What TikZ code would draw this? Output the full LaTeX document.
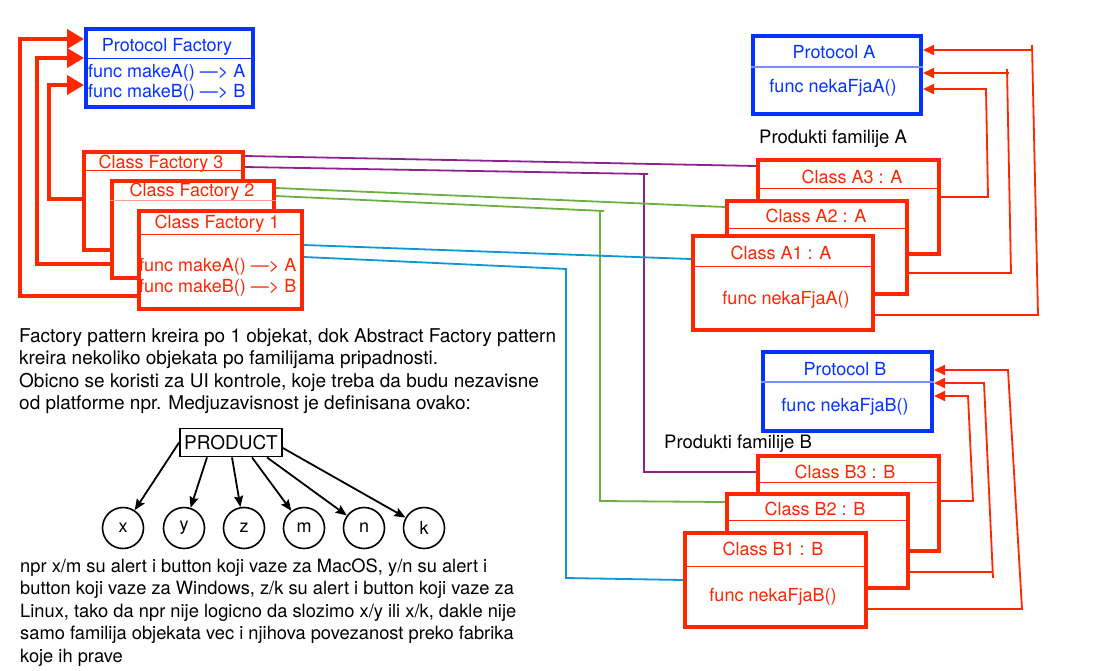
\documentclass[tikz,border=0pt]{standalone}
\usepackage{fontspec}
\setmainfont{TeX Gyre Heros}
\usetikzlibrary{arrows.meta}
\definecolor{pblue}{HTML}{0433FF}
\definecolor{pred}{HTML}{FF2600}
\definecolor{ppurple}{HTML}{8E2390}
\definecolor{pgreen}{HTML}{6CB043}
\definecolor{pcyan}{HTML}{0C98D4}
\pgfdeclarelayer{bg}
\pgfsetlayers{bg,main}
\tikzset{
  rbox/.style={draw=pred, line width=4pt, fill=white, inner sep=0pt, anchor=north west},
  bbox/.style={draw=pblue, line width=4pt, fill=white, inner sep=0pt, anchor=north west},
  rhl/.style={draw=pred, line width=1pt},
  bhl/.style={draw=pblue!55, line width=1.2pt},
  rtxt/.style={text=pred, inner sep=0pt, anchor=base},
  btxt/.style={text=pblue, inner sep=0pt, anchor=base},
  ktxt/.style={text=black, inner sep=0pt, anchor=base west},
  farr/.style={draw=pred, line width=4pt, -{Triangle[length=17pt,width=19pt]}},
  tarr/.style={draw=pred, line width=1.8pt, -{Triangle[length=11pt,width=10pt]}},
  pur/.style={draw=ppurple, line width=1.8pt},
  grn/.style={draw=pgreen, line width=1.8pt},
  cyn/.style={draw=pcyan, line width=1.8pt},
  circ/.style={draw, circle, line width=1.6pt, minimum size=41pt, inner sep=0pt},
  parr/.style={draw, line width=1.8pt, -{Stealth[length=11pt,width=9pt,inset=1.5pt]}},
}
\begin{document}
\begin{tikzpicture}[x=1pt,y=-1pt,font=\fontsize{18}{23}\selectfont]
\begin{pgfonlayer}{bg}
\fill[white] (0,0) rectangle (1094,670);
\end{pgfonlayer}
\useasboundingbox (0,0) rectangle (1094,670);

% Protocol Factory
\node[bbox, minimum width=167pt, minimum height=78pt] (pf) at (84,27) {};
\draw[draw=pblue, line width=1pt] (pf.west |- 0,58) -- (pf.east |- 0,58);
\node[btxt] (pft) at (167,51) {Protocol Factory};
\node[btxt, anchor=base west] (pfa) at (88,77) {func makeA() —> A};
\node[btxt, anchor=base west] (pfb) at (88,97) {func makeB() —> B};

% Class factories
\node[rbox, minimum width=159pt, minimum height=98pt] (cf3) at (82,150) {};
\draw[rhl] (cf3.west |- 0,170) -- (cf3.east |- 0,170);
\node[rtxt] (cf3t) at (161,168) {Class Factory 3};

\node[rbox, minimum width=162pt, minimum height=97pt] (cf2) at (110,179) {};
\draw[rhl, draw=pred!45] (cf2.west |- 0,200) -- (cf2.east |- 0,200);
\node[rtxt] (cf2t) at (192,196) {Class Factory 2};

\node[rbox, minimum width=163pt, minimum height=98pt] (cf1) at (137,209) {};
\draw[rhl] (cf1.west |- 0,234) -- (cf1.east |- 0,234);
\node[rtxt] (cf1t) at (217,228) {Class Factory 1};
\node[rtxt, anchor=base west] (cf1a) at (139,271) {func makeA() —> A};
\node[rtxt, anchor=base west] (cf1b) at (139,292) {func makeB() —> B};

% Protocol A
\node[bbox, minimum width=168pt, minimum height=78pt] (pa) at (751,34) {};
\draw[bhl] (pa.west |- 0,67) -- (pa.east |- 0,67);
\node[btxt] (pat) at (834,58) {Protocol A};
\node[btxt] (paf) at (833,92) {func nekaFjaA()};
\node[ktxt, font=\fontsize{18.5}{23}\selectfont] (fama) at (759,143) {Produkti familije A};

\node[rbox, minimum width=181pt, minimum height=94pt] (a3) at (756,158) {};
\draw[rhl] (a3.west |- 0,188) -- (a3.east |- 0,188);
\node[rtxt] (a3t) at (852,183) {Class A3 : A};

\node[rbox, minimum width=180pt, minimum height=93pt] (a2) at (725,199) {};
\draw[rhl] (a2.west |- 0,228) -- (a2.east |- 0,228);
\node[rtxt] (a2t) at (816,222) {Class A2 : A};

\node[rbox, minimum width=180pt, minimum height=94pt] (a1) at (691,234) {};
\draw[rhl] (a1.west |- 0,266) -- (a1.east |- 0,266);
\node[rtxt] (a1t) at (781,259) {Class A1 : A};
\node[rtxt] (a1f) at (786,304) {func nekaFjaA()};

% Protocol B
\node[bbox, minimum width=169pt, minimum height=79pt] (pb) at (761,350) {};
\draw[bhl] (pb.west |- 0,382) -- (pb.east |- 0,382);
\node[btxt] (pbt) at (845,375) {Protocol B};
\node[btxt] (pbf) at (845,411) {func nekaFjaB()};
\node[ktxt, font=\fontsize{18.5}{23}\selectfont] (famb) at (664,448) {Produkti familije B};

\node[rbox, minimum width=181pt, minimum height=95pt] (b3) at (756,454) {};
\draw[rhl] (b3.west |- 0,482) -- (b3.east |- 0,482);
\node[rtxt] (b3t) at (845,478) {Class B3 : B};

\node[rbox, minimum width=181pt, minimum height=94pt] (b2) at (725,492) {};
\draw[rhl] (b2.west |- 0,520) -- (b2.east |- 0,520);
\node[rtxt] (b2t) at (815,515) {Class B2 : B};

\node[rbox, minimum width=181pt, minimum height=94pt] (b1) at (683,531) {};
\draw[rhl] (b1.west |- 0,566) -- (b1.east |- 0,566);
\node[rtxt] (b1t) at (773,555) {Class B1 : B};
\node[rtxt] (b1f) at (773,601) {func nekaFjaB()};

% connectors
\begin{pgfonlayer}{bg}
\draw[farr] (cf1.west |- 0,296) -- (20,296) -- (20,39) -- (pf.west |- 0,39);
\draw[farr] (cf2.west |- 0,264) -- (37,264) -- (37,58) -- (pf.west |- 0,58);
\draw[farr] (cf3.west |- 0,199) -- (49,199) -- (49,85) -- (pf.west |- 0,85);

\draw[tarr] (a3.east |- 0,197) -- (988,197) -- (986,89) -- (pa.east |- 0,89);
\draw[tarr] (a2.east |- 0,273) -- (1011,273) -- (1007,69) (1009,73) -- (pa.east |- 0,73);
\draw[tarr] (a1.east |- 0,315) -- (1038,315) -- (1032,45) (1033,50) -- (pa.east |- 0,50);

\draw[tarr] (b3.east |- 0,501) -- (973,501) -- (968,396) -- (pb.east |- 0,396);
\draw[tarr] (b2.east |- 0,572) -- (992,572) (993,578) -- (984,383) -- (pb.east |- 0,383);
\draw[tarr] (b1.east |- 0,609) -- (1022,609) -- (1008,370) -- (pb.east |- 0,370);

\draw[pur] (cf3.east |- 0,156) -- (a3.west |- 0,166);
\draw[pur] (cf3.east |- 0,167) -- (648,174) (644,174) -- (644,472) -- (b3.west |- 0,472);
\draw[grn] (cf2.east |- 0,188) -- (a2.west |- 0,207);
\draw[grn] (cf2.east |- 0,196) -- (604,211) (600,211) -- (600,501) -- (b2.west |- 0,502);
\draw[cyn] (cf1.east |- 0,245) -- (a1.west |- 0,259);
\draw[cyn] (cf1.east |- 0,257) -- (567,269) (566,269) -- (566,578) -- (b1.west |- 0,580);
\end{pgfonlayer}

% text paragraph 1
\begin{scope}[every node/.append style={font=\fontsize{19}{23}\selectfont}]
\node[ktxt] (p1) at (19,342) {Factory pattern kreira po 1 objekat, dok Abstract Factory pattern};
\node[ktxt] (p2) at (19,364) {kreira nekoliko objekata po familijama pripadnosti.};
\node[ktxt] (p3) at (19,387) {Obicno se koristi za UI kontrole, koje treba da budu nezavisne};
\node[ktxt] (p4) at (19,409) {od platforme npr. Medjuzavisnost je definisana ovako:};
\end{scope}

% product tree
\node[draw, line width=1.8pt, minimum width=102pt, minimum height=28pt, inner sep=0pt, font=\fontsize{19}{23}\selectfont] (prod) at (231,442.5) {PRODUCT};
\node[circ] (cx) at (123,528) {x};
\node[circ] (cy) at (184,528) {y};
\node[circ] (cz) at (244,528) {z};
\node[circ] (cm) at (304,528) {m};
\node[circ] (cn) at (364,528) {n};
\node[circ] (ck) at (424,528) {k};
\draw[parr] (prod.west) -- (cx);
\draw[parr] (prod.south -| 207,0) -- (cy);
\draw[parr] (prod.south -| 232,0) -- (cz);
\draw[parr] (prod.south -| 252,0) -- (cm);
\draw[parr] (prod.south -| 267,0) -- (cn);
\draw[parr] (prod.east |- 0,448) -- (ck);

% text paragraph 2
\begin{scope}[every node/.append style={font=\fontsize{18.3}{23}\selectfont}]
\node[ktxt] (q1) at (20,572) {npr x/m su alert i button koji vaze za MacOS, y/n su alert i};
\node[ktxt] (q2) at (20,594) {button koji vaze za Windows, z/k su alert i button koji vaze za};
\node[ktxt] (q3) at (20,617) {Linux, tako da npr nije logicno da slozimo x/y ili x/k, dakle nije};
\node[ktxt] (q4) at (20,639) {samo familija objekata vec i njihova povezanost preko fabrika};
\node[ktxt] (q5) at (20,662) {koje ih prave};
\end{scope}
\end{tikzpicture}
\end{document}
